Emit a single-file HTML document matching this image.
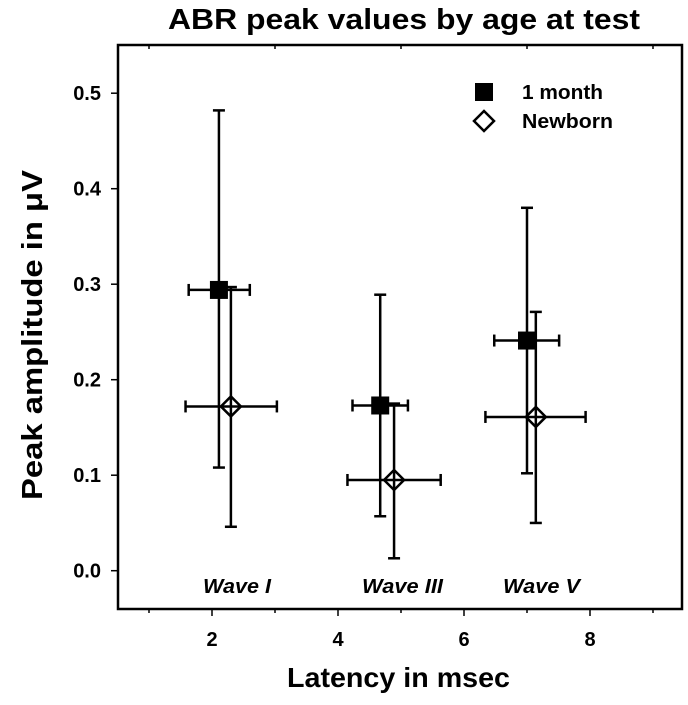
<!DOCTYPE html>
<html><head><meta charset="utf-8"><style>
body{margin:0;background:#fff}
svg text{font-family:"Liberation Sans",Arial,sans-serif;font-weight:bold;fill:#000}
</style></head><body>
<svg id="chart" width="688" height="700" xmlns="http://www.w3.org/2000/svg">
<text x="168" y="29" font-size="29" textLength="472" lengthAdjust="spacingAndGlyphs">ABR peak values by age at test</text>
<rect x="118" y="45" width="564" height="564" fill="none" stroke="#000" stroke-width="2.5"/>
<g id="axes"></g>
<g id="marks"></g>
<text x="287" y="687" font-size="28" textLength="223" lengthAdjust="spacingAndGlyphs">Latency in msec</text>
<text transform="translate(42,500) rotate(-90)" font-size="29" textLength="330" lengthAdjust="spacingAndGlyphs">Peak amplitude in μV</text>
<text x="203" y="593" font-size="20" font-style="italic" textLength="68" lengthAdjust="spacingAndGlyphs">Wave I</text>
<text x="362" y="593" font-size="20" font-style="italic" textLength="81" lengthAdjust="spacingAndGlyphs">Wave III</text>
<text x="503" y="593" font-size="20" font-style="italic" textLength="77" lengthAdjust="spacingAndGlyphs">Wave V</text>
<g>
<rect x="475" y="83" width="18" height="18" fill="#000"/>
<text x="522" y="99" font-size="20" textLength="81" lengthAdjust="spacingAndGlyphs">1 month</text>
<polygon points="484,111 494,121 484,131 474,121" fill="#fff" stroke="#000" stroke-width="2.5"/>
<text x="522" y="128" font-size="20" textLength="91" lengthAdjust="spacingAndGlyphs">Newborn</text>
</g>
</svg>
<script>
const xTicks=[2,4,6,8];
const yTicks=[0,0.1,0.2,0.3,0.4,0.5];
const yTickLabels=["0.0","0.1","0.2","0.3","0.4","0.5"];
const waves=["Wave I","Wave III","Wave V"];
const monthX=[2.11,4.67,7.00];
const monthY=[0.294,0.173,0.241];
const monthYLo=[0.108,0.057,0.102];
const monthYHi=[0.482,0.289,0.380];
const monthXLo=[1.63,4.23,6.48];
const monthXHi=[2.60,5.11,7.51];
const newbornX=[2.30,4.89,7.14];
const newbornY=[0.172,0.095,0.161];
const newbornYLo=[0.046,0.013,0.050];
const newbornYHi=[0.297,0.175,0.271];
const newbornXLo=[1.58,4.15,6.34];
const newbornXHi=[3.03,5.63,7.93];

const X=v=>86+63*v;
const Y=v=>570.7-955*v;
const NS="http://www.w3.org/2000/svg";
function mk(tag,attrs,parent){const e=document.createElementNS(NS,tag);for(const k in attrs)e.setAttribute(k,attrs[k]);parent.appendChild(e);return e;}
const axes=document.getElementById('axes'),marks=document.getElementById('marks');
for(let v=1;v<=9;v++){
  const major=v%2===0;
  const t=mk('line',{x1:X(v),x2:X(v),y1:609,y2:major?616:613,stroke:'#000','stroke-width':1.5},axes);
  
  
  if(!major){const tt=mk('line',{x1:X(v),x2:X(v),y1:45,y2:49,stroke:'#000','stroke-width':1.5},axes);
  
  }
}
xTicks.forEach(v=>{
  const t=mk('text',{x:X(v),y:646,'font-size':20,'text-anchor':'middle'},axes);t.textContent=v;
  
  
});
yTicks.forEach((v,i)=>{
  const l=mk('line',{x1:111,x2:118,y1:Y(v),y2:Y(v),stroke:'#000','stroke-width':1.5},axes);
  
  
  const t=mk('text',{x:101,y:Y(v)+7,'font-size':20,'text-anchor':'end'},axes);t.textContent=yTickLabels[i];
  
  
});
function errbars(x,y,ylo,yhi,xlo,xhi,name){
  const g=mk('g',{stroke:'#000','stroke-width':2.5,fill:'none'},marks);
  
  
  const cx=X(x),cy=Y(y);
  mk('line',{x1:cx,x2:cx,y1:Y(yhi),y2:Y(ylo)},g);
  mk('line',{x1:cx-6,x2:cx+6,y1:Y(yhi),y2:Y(yhi)},g);
  mk('line',{x1:cx-6,x2:cx+6,y1:Y(ylo),y2:Y(ylo)},g);
  mk('line',{x1:X(xlo),x2:X(xhi),y1:cy,y2:cy},g);
  mk('line',{x1:X(xlo),x2:X(xlo),y1:cy-6,y2:cy+6},g);
  mk('line',{x1:X(xhi),x2:X(xhi),y1:cy-6,y2:cy+6},g);
}
waves.forEach((w,i)=>{
  const slug=w.toLowerCase().replace(' ','-');
  errbars(monthX[i],monthY[i],monthYLo[i],monthYHi[i],monthXLo[i],monthXHi[i],'1-month-'+slug);
  errbars(newbornX[i],newbornY[i],newbornYLo[i],newbornYHi[i],newbornXLo[i],newbornXHi[i],'newborn-'+slug);
});
waves.forEach((w,i)=>{
  const slug=w.toLowerCase().replace(' ','-');
  const r=mk('rect',{x:X(monthX[i])-9,y:Y(monthY[i])-9,width:18,height:18,fill:'#000'},marks);
  
  
  const cx=X(newbornX[i]),cy=Y(newbornY[i]);
  const d=mk('polygon',{points:`${cx},${cy-10} ${cx+10},${cy} ${cx},${cy+10} ${cx-10},${cy}`,fill:'none',stroke:'#000','stroke-width':2.5},marks);
  
  
});
</script>
</body></html>
